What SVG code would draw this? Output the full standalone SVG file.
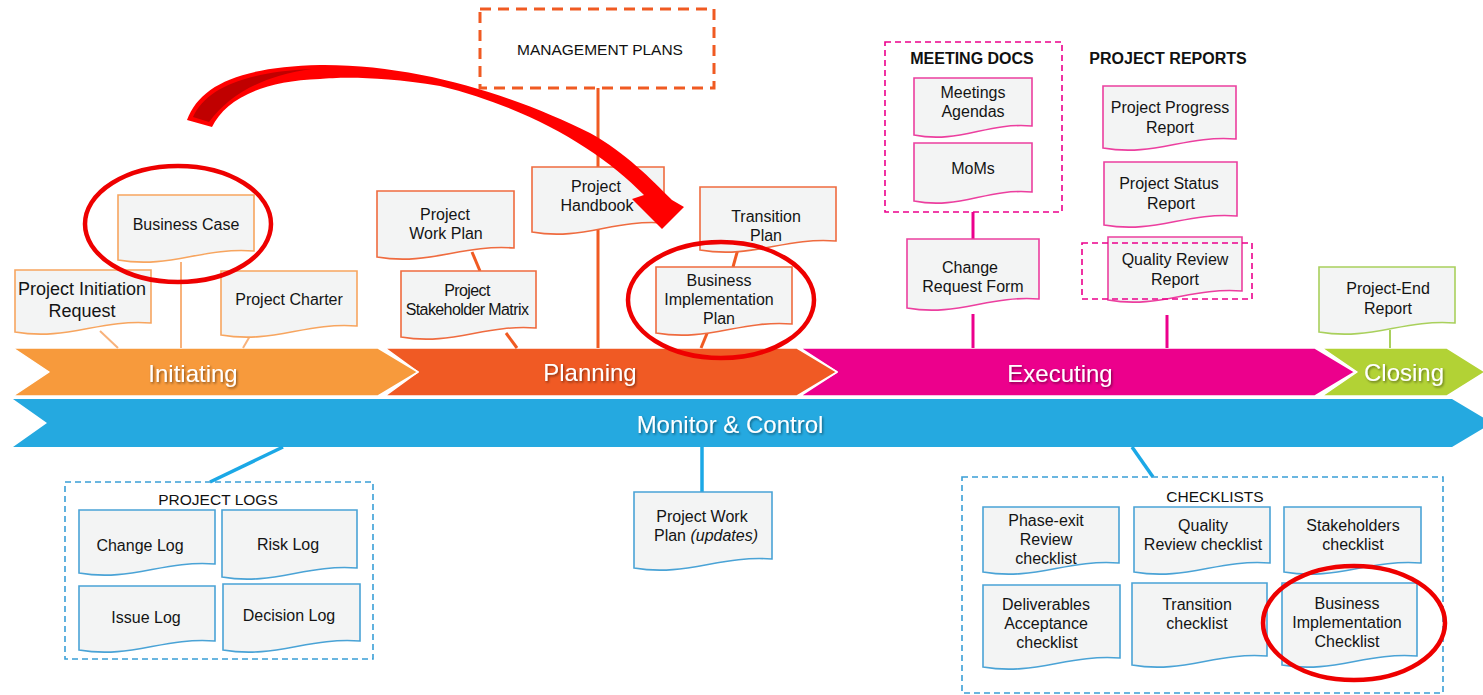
<svg xmlns="http://www.w3.org/2000/svg" width="1483" height="695" viewBox="0 0 1483 695">
  <defs>
    <style>
      .doc { fill: #f3f4f4; stroke-width: 1.6; }
      .i { stroke: #f7a55f; }
      .p { stroke: #ef6b3f; }
      .e { stroke: #ec3f9f; }
      .c { stroke: #a9d05c; }
      .m { stroke: #4aa3d6; }
      .t { font-family: "Liberation Sans", Arial, sans-serif; font-size: 16px; fill: #141414; text-anchor: middle; }
      .big { font-size: 18px; }
      .cond { letter-spacing: -0.6px; }
      .title { font-family: "Liberation Sans", Arial, sans-serif; font-size: 16px; font-weight: bold; fill: #111; text-anchor: middle; }
      .group-title { font-family: "Liberation Sans", Arial, sans-serif; font-size: 15.5px; fill: #111; text-anchor: middle; }
      .phase-label { font-family: "Liberation Sans", Arial, sans-serif; font-size: 24px; fill: #ffffff; text-anchor: middle; filter: url(#txtShadow); }
      .chev { stroke: #ffffff; stroke-width: 1.5; stroke-linejoin: round; }
      .lnI { stroke: #f8b27b; stroke-width: 2; fill: none; }
      .lnP { stroke: #f05a22; stroke-width: 3; fill: none; }
      .lnE { stroke: #ec008c; stroke-width: 3; fill: none; }
      .lnC { stroke: #a9d05c; stroke-width: 2; fill: none; }
      .lnM { stroke: #1ba8e6; stroke-width: 3.5; fill: none; }
      .dashP { fill: none; stroke: #f05a22; stroke-width: 3; stroke-dasharray: 11 7; }
      .dashE { fill: none; stroke: #ec008c; stroke-width: 1.6; stroke-dasharray: 6 4; }
      .dashM { fill: none; stroke: #3a9fd6; stroke-width: 1.6; stroke-dasharray: 6 4; }
      .ring { fill: none; stroke: #ee0000; stroke-width: 4.5; }
    </style>
    <filter id="txtShadow" x="-10%" y="-30%" width="130%" height="170%">
      <feDropShadow dx="1.2" dy="1.5" stdDeviation="1" flood-color="#000" flood-opacity="0.45"/>
    </filter>
  </defs>

  <!-- phase chevrons (drawn right to left so each tip overlaps the next phase) -->
  <g id="phases">
    <g id="phase-closing">
      <path class="chev" fill="#b2d235" d="M1322,348 H1447 L1485,372 L1447,396 H1322 L1357,372 Z"/>
      <text class="phase-label" x="1404" y="381">Closing</text>
    </g>
    <g id="phase-executing">
      <path class="chev" fill="#ec008c" d="M800,348 H1315 L1355,372 L1315,396 H800 L837,372 Z"/>
      <text class="phase-label" x="1060" y="382">Executing</text>
    </g>
    <g id="phase-planning">
      <path class="chev" fill="#f05a24" d="M385,348 H797 L837,372 L797,396 H385 L418,372 Z"/>
      <text class="phase-label" x="590" y="381">Planning</text>
    </g>
    <g id="phase-initiating">
      <path class="chev" fill="#f79a3c" d="M13,348 H378 L418,372 L378,396 H13 L49,372 Z"/>
      <text class="phase-label" x="193" y="382">Initiating</text>
    </g>
    <g id="phase-monitor">
      <path fill="#25a9e0" d="M13,399 H1452 L1492,423 L1452,447 H13 L47,423 Z"/>
      <text class="phase-label" x="730" y="433">Monitor &amp; Control</text>
    </g>
  </g>

  <!-- connectors -->
  <g id="connectors">
    <line class="lnI" x1="181" y1="262" x2="181" y2="348"/>
    <line class="lnI" x1="100" y1="331" x2="118" y2="348"/>
    <line class="lnI" x1="250" y1="336" x2="243" y2="348"/>

    <line class="lnP" x1="598" y1="88" x2="598" y2="348"/>
    <line class="lnP" x1="472" y1="252" x2="480" y2="271"/>
    <line class="lnP" x1="506" y1="333" x2="517" y2="348"/>
    <line class="lnP" x1="738" y1="249" x2="733" y2="267"/>
    <line class="lnP" x1="708" y1="331" x2="701" y2="348"/>

    <line class="lnE" x1="973" y1="212" x2="973" y2="239"/>
    <line class="lnE" x1="973" y1="314" x2="973" y2="348"/>
    <line class="lnE" x1="1167" y1="315" x2="1167" y2="348"/>

    <line class="lnC" x1="1390" y1="330" x2="1390" y2="348"/>

    <line class="lnM" x1="283" y1="447" x2="210" y2="482"/>
    <line class="lnM" x1="702" y1="447" x2="702" y2="492"/>
    <line class="lnM" x1="1132" y1="447" x2="1153" y2="477"/>
  </g>

  <!-- initiating documents -->
  <g id="business-case">
    <path class="doc i" d="M118,195 h136 v56 c-52,-4 -84,18 -136,9 z"/>
    <text class="t" x="186" y="230">Business Case</text>
  </g>
  <g id="project-initiation-request">
    <path class="doc i" d="M15,270 h136 v53 c-52,-4 -84,18 -136,9 z"/>
    <text class="t big" x="82" y="295">Project Initiation</text>
    <text class="t big" x="82" y="317">Request</text>
  </g>
  <g id="project-charter">
    <path class="doc i" d="M221,271 h136 v55 c-52,-4 -84,18 -136,9 z"/>
    <text class="t" x="289" y="305">Project Charter</text>
  </g>

  <!-- planning documents -->
  <g id="management-plans">
    <rect class="dashP" x="480" y="9" width="234" height="79"/>
    <text class="group-title" x="600" y="55">MANAGEMENT PLANS</text>
  </g>
  <g id="project-work-plan">
    <path class="doc p" d="M377,191 h137 v57 c-52,-4 -85,18 -137,9 z"/>
    <text class="t" x="445" y="220">Project</text>
    <text class="t" x="446" y="239">Work Plan</text>
  </g>
  <g id="stakeholder-matrix">
    <path class="doc p" d="M401,271 h135 v57 c-51,-4 -84,18 -135,9 z"/>
    <text class="t cond" x="467" y="296">Project</text>
    <text class="t cond" x="467" y="315">Stakeholder Matrix</text>
  </g>
  <g id="project-handbook">
    <path class="doc p" d="M532,167 h132 v56 c-50,-4 -82,18 -132,9 z"/>
    <text class="t" x="596" y="192">Project</text>
    <text class="t" x="597" y="211">Handbook</text>
  </g>
  <g id="transition-plan">
    <path class="doc p" d="M700,187 h136 v54 c-52,-4 -84,18 -136,9 z"/>
    <text class="t" x="766" y="222">Transition</text>
    <text class="t" x="766" y="241">Plan</text>
  </g>
  <g id="business-implementation-plan">
    <path class="doc p" d="M656,267 h136 v57 c-52,-4 -84,18 -136,9 z"/>
    <text class="t" x="719" y="286">Business</text>
    <text class="t" x="719" y="305">Implementation</text>
    <text class="t" x="719" y="324">Plan</text>
  </g>

  <!-- executing documents -->
  <g id="meeting-docs">
    <rect class="dashE" x="885" y="42" width="177" height="170"/>
    <text class="title" x="972" y="64">MEETING DOCS</text>
  </g>
  <g id="meetings-agendas">
    <path class="doc e" d="M914,78 h118 v48 c-45,-4 -73,18 -118,9 z"/>
    <text class="t" x="973" y="98">Meetings</text>
    <text class="t" x="973" y="117">Agendas</text>
  </g>
  <g id="moms">
    <path class="doc e" d="M914,143 h118 v49 c-45,-4 -73,18 -118,9 z"/>
    <text class="t" x="973" y="174">MoMs</text>
  </g>
  <g id="change-request-form">
    <path class="doc e" d="M907,239 h132 v60 c-50,-4 -82,18 -132,9 z"/>
    <text class="t" x="970" y="273">Change</text>
    <text class="t" x="973" y="292">Request Form</text>
  </g>
  <g id="project-reports">
    <text class="title" x="1168" y="64">PROJECT REPORTS</text>
  </g>
  <g id="project-progress-report">
    <path class="doc e" d="M1103,86 h133 v53 c-51,-4 -82,18 -133,9 z"/>
    <text class="t" x="1170" y="113">Project Progress</text>
    <text class="t" x="1170" y="133">Report</text>
  </g>
  <g id="project-status-report">
    <path class="doc e" d="M1104,162 h133 v54 c-51,-4 -82,18 -133,9 z"/>
    <text class="t" x="1169" y="189">Project Status</text>
    <text class="t" x="1171" y="209">Report</text>
  </g>
  <g id="quality-review-report">
    <path class="doc e" d="M1108,237 h134 v54 c-51,-4 -83,18 -134,9 z"/>
    <rect class="dashE" x="1082" y="243" width="170" height="56"/>
    <text class="t" x="1175" y="265">Quality Review</text>
    <text class="t" x="1175" y="285">Report</text>
  </g>

  <!-- closing document -->
  <g id="project-end-report">
    <path class="doc c" d="M1319,267 h136 v56 c-52,-4 -84,18 -136,9 z"/>
    <text class="t" x="1388" y="294">Project-End</text>
    <text class="t" x="1388" y="314">Report</text>
  </g>

  <!-- monitor & control documents -->
  <g id="project-logs">
    <rect class="dashM" x="65" y="482" width="308" height="177"/>
    <text class="group-title" x="218" y="505">PROJECT LOGS</text>
  </g>
  <g id="change-log">
    <path class="doc m" d="M79,510 h136 v54 c-52,-4 -84,18 -136,9 z"/>
    <text class="t" x="140" y="551">Change Log</text>
  </g>
  <g id="risk-log">
    <path class="doc m" d="M222,510 h135 v58 c-51,-4 -84,18 -135,9 z"/>
    <text class="t" x="288" y="550">Risk Log</text>
  </g>
  <g id="issue-log">
    <path class="doc m" d="M79,586 h136 v55 c-52,-4 -84,18 -136,9 z"/>
    <text class="t" x="146" y="623">Issue Log</text>
  </g>
  <g id="decision-log">
    <path class="doc m" d="M223,584 h137 v57 c-52,-4 -85,18 -137,9 z"/>
    <text class="t" x="289" y="621">Decision Log</text>
  </g>
  <g id="project-work-plan-updates">
    <path class="doc m" d="M634,492 h138 v67 c-52,-4 -86,18 -138,9 z"/>
    <text class="t" x="702" y="522">Project Work</text>
    <text class="t" x="706" y="541">Plan <tspan font-style="italic">(updates)</tspan></text>
  </g>
  <g id="checklists">
    <rect class="dashM" x="962" y="477" width="481" height="216"/>
    <text class="group-title" x="1215" y="502">CHECKLISTS</text>
  </g>
  <g id="phase-exit-checklist">
    <path class="doc m" d="M983,507 h136 v56 c-52,-4 -84,18 -136,9 z"/>
    <text class="t" x="1046" y="526">Phase-exit</text>
    <text class="t" x="1046" y="545">Review</text>
    <text class="t" x="1046" y="564">checklist</text>
  </g>
  <g id="quality-review-checklist">
    <path class="doc m" d="M1134,507 h136 v56 c-52,-4 -84,18 -136,9 z"/>
    <text class="t" x="1203" y="531">Quality</text>
    <text class="t" x="1203" y="550">Review checklist</text>
  </g>
  <g id="stakeholders-checklist">
    <path class="doc m" d="M1284,507 h137 v56 c-52,-4 -85,18 -137,9 z"/>
    <text class="t" x="1353" y="531">Stakeholders</text>
    <text class="t" x="1353" y="550">checklist</text>
  </g>
  <g id="deliverables-checklist">
    <path class="doc m" d="M983,585 h137 v73 c-52,-4 -85,18 -137,9 z"/>
    <text class="t" x="1046" y="610">Deliverables</text>
    <text class="t" x="1046" y="629">Acceptance</text>
    <text class="t" x="1047" y="648">checklist</text>
  </g>
  <g id="transition-checklist">
    <path class="doc m" d="M1132,583 h135 v73 c-51,-4 -84,18 -135,9 z"/>
    <text class="t" x="1197" y="610">Transition</text>
    <text class="t" x="1197" y="629">checklist</text>
  </g>
  <g id="business-implementation-checklist">
    <path class="doc m" d="M1282,583 h135 v73 c-51,-4 -84,18 -135,9 z"/>
    <text class="t" x="1347" y="609">Business</text>
    <text class="t" x="1347" y="628">Implementation</text>
    <text class="t" x="1347" y="647">Checklist</text>
  </g>

  <!-- highlight: curved arrow from the business case to the implementation plan -->
  <g id="highlight-arrow">
    <path fill="#ff0000" d="M187,120 C200,85 240,67 320,65 C420,64 520,98 590,133 C626,153 651,179 672,200 L684,207 L662,229 L632,199 L644,195 C600,150 530,108 440,86 C380,76 340,77 320,79 C260,81 225,100 212,127 Z"/>
    <path fill="#c00000" d="M193,117 C206,88 245,72 312,69 C262,76 230,94 209,122 Z"/>
  </g>

  <!-- highlight rings -->
  <g id="highlight-rings">
    <ellipse class="ring" cx="178" cy="224" rx="93" ry="58"/>
    <ellipse class="ring" cx="721" cy="300" rx="93" ry="58"/>
    <ellipse class="ring" cx="1354" cy="623" rx="91" ry="57"/>
  </g>
</svg>
